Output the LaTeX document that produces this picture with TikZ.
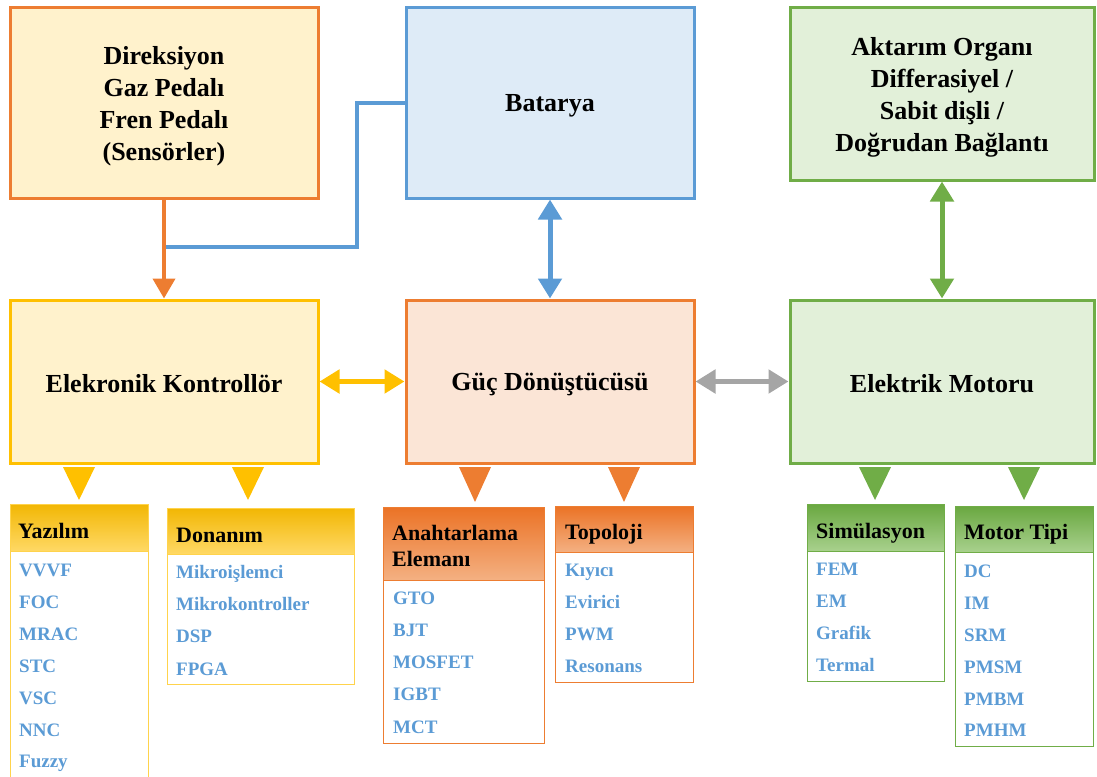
\documentclass[tikz,border=0pt]{standalone}
\usepackage{fontspec}
\setmainfont{Liberation Serif}
\usetikzlibrary{arrows.meta,calc}
\definecolor{cOr}{HTML}{ED7D31}
\definecolor{cBl}{HTML}{5B9BD5}
\definecolor{cGr}{HTML}{70AD47}
\definecolor{cYe}{HTML}{FFC000}
\definecolor{cGy}{HTML}{A5A5A5}
\definecolor{fYe}{HTML}{FFF2CC}
\definecolor{fBl}{HTML}{DEEBF7}
\definecolor{fGr}{HTML}{E2F0D9}
\definecolor{fOr}{HTML}{FBE5D6}
\definecolor{hYeT}{HTML}{F2B705}
\definecolor{hYeB}{HTML}{FFD966}
\definecolor{hOrT}{HTML}{EB7326}
\definecolor{hOrB}{HTML}{F4B183}
\definecolor{hGrT}{HTML}{6AA841}
\definecolor{hGrB}{HTML}{A9D18E}
\begin{document}
\begin{tikzpicture}[x=1pt,y=-1pt,
  mainbox/.style={draw, line width=3pt, inner sep=0pt},
  maintext/.style={inner sep=0pt, align=center, font=\bfseries\fontsize{26}{32}\selectfont},
  listbox/.style={draw, line width=1.2pt, fill=white, inner sep=0pt, anchor=north west},
  hdr/.style={draw, line width=1.2pt, inner sep=0pt, anchor=north west},
  hdrtext/.style={anchor=base west, inner sep=0pt, align=left, font=\bfseries\fontsize{22}{26}\selectfont},
  item/.style={anchor=base west, inner sep=0pt, text=cBl, font=\bfseries\fontsize{19}{23}\selectfont},
  conn/.style={line width=4pt},
  dbl/.style={line width=5pt, {Triangle[length=20pt,width=23pt]}-{Triangle[length=20pt,width=23pt]}},
  sgl/.style={line width=4pt, -{Triangle[length=20pt,width=22pt]}}
]
\useasboundingbox (0,0) rectangle (1097,776);

% main boxes
\node[mainbox, fill=fYe, draw=cOr, minimum width=308pt, minimum height=190pt] (sens) at (164,103) {};
\node[mainbox, fill=fBl, draw=cBl, minimum width=288pt, minimum height=190pt] (bat) at (550,103) {};
\node[mainbox, fill=fGr, draw=cGr, minimum width=304pt, minimum height=172pt] (akt) at (942,94) {};
\node[mainbox, fill=fYe, draw=cYe, minimum width=308pt, minimum height=163pt] (ctrl) at (164,381.5) {};
\node[mainbox, fill=fOr, draw=cOr, minimum width=288pt, minimum height=163pt] (conv) at (550,381.5) {};
\node[mainbox, fill=fGr, draw=cGr, minimum width=304pt, minimum height=163pt] (mot) at (942,381.5) {};

\node[maintext] (sensT) at (164,106) {Direksiyon\\Gaz Pedalı\\Fren Pedalı\\(Sensörler)};
\node[maintext] (batT) at (550,106) {Batarya};
\node[maintext] (aktT) at (942,97) {Aktarım Organı\\Differasiyel /\\Sabit dişli /\\Doğrudan Bağlantı};
\node[maintext] (ctrlT) at (164,384) {Elekronik Kontrollör};
\node[maintext] (convT) at (550,384) {Güç Dönüştücüsü};
\node[maintext] (motT0) at (942,384) {Elektrik Motoru};

% connectors
\coordinate (j) at (164,247);
\draw[conn, cBl] (j) -- (357,247) |- (bat.west);
\draw[sgl, cOr] (sens.south) -- (ctrl.north);
\draw[dbl, cBl] (bat.south) -- (conv.north);
\draw[dbl, cGr] (akt.south) -- (mot.north);
\draw[dbl, cYe] (ctrl.east) -- (conv.west);
\draw[dbl, cGy] (conv.east) -- (mot.west);

% triangles
\fill[cYe] (63,467) -- (95,467) -- (79,500) -- cycle;
\fill[cYe] (232,467) -- (264,467) -- (248,500) -- cycle;
\fill[cOr] (459,467) -- (491,467) -- (475,502) -- cycle;
\fill[cOr] (608,467) -- (640,467) -- (624,502) -- cycle;
\fill[cGr] (859,467) -- (891,467) -- (875,500) -- cycle;
\fill[cGr] (1008,467) -- (1040,467) -- (1024,500) -- cycle;

% Yazilim
\begin{scope}
\clip (0,0) rectangle (1097,776);
\node[listbox, draw=cYe!70, minimum width=138pt, minimum height=300pt] (yazB) at (10,504) {};
\end{scope}
\node[hdr, draw=cYe!70, top color=hYeT, bottom color=hYeB, minimum width=138pt, minimum height=47pt] (yazH) at (10,504) {};
\node[hdrtext] (yazT) at (18,538) {Yazılım};
\node[item] (y1) at (19,576) {VVVF};
\node[item] (y2) at (19,608) {FOC};
\node[item] (y3) at (19,640) {MRAC};
\node[item] (y4) at (19,672) {STC};
\node[item] (y5) at (19,704) {VSC};
\node[item] (y6) at (19,736) {NNC};
\node[item] (y7) at (19,767) {Fuzzy};

% Donanim
\node[listbox, draw=cYe!70, minimum width=187pt, minimum height=176pt] (donB) at (167,508) {};
\node[hdr, draw=cYe!70, top color=hYeT, bottom color=hYeB, minimum width=187pt, minimum height=46pt] (donH) at (167,508) {};
\node[hdrtext] (donT) at (176,542) {Donanım};
\node[item] (d1) at (176,578) {Mikroişlemci};
\node[item] (d2) at (176,610) {Mikrokontroller};
\node[item] (d3) at (176,642) {DSP};
\node[item] (d4) at (176,675) {FPGA};

% Anahtarlama
\node[listbox, draw=cOr, minimum width=161pt, minimum height=236pt] (anaB) at (383,507) {};
\node[hdr, draw=cOr, top color=hOrT, bottom color=hOrB, minimum width=161pt, minimum height=73pt] (anaH) at (383,507) {};
\node[hdrtext] (anaT) at (392,540) {Anahtarlama};
\node[hdrtext] (anaT2) at (392,566) {Elemanı};
\node[item] (a1) at (393,604) {GTO};
\node[item] (a2) at (393,636) {BJT};
\node[item] (a3) at (393,668) {MOSFET};
\node[item] (a4) at (393,700) {IGBT};
\node[item] (a5) at (393,733) {MCT};

% Topoloji
\node[listbox, draw=cOr, minimum width=138pt, minimum height=176pt] (topB) at (555,506) {};
\node[hdr, draw=cOr, top color=hOrT, bottom color=hOrB, minimum width=138pt, minimum height=46pt] (topH) at (555,506) {};
\node[hdrtext] (topT) at (565,539) {Topoloji};
\node[item] (t1) at (565,576) {Kıyıcı};
\node[item] (t2) at (565,608) {Evirici};
\node[item] (t3) at (565,640) {PWM};
\node[item] (t4) at (565,672) {Resonans};

% Simulasyon
\node[listbox, draw=cGr, minimum width=137pt, minimum height=177pt] (simB) at (807,504) {};
\node[hdr, draw=cGr, top color=hGrT, bottom color=hGrB, minimum width=137pt, minimum height=47pt] (simH) at (807,504) {};
\node[hdrtext] (simT) at (816,538) {Simülasyon};
\node[item] (s1) at (816,575) {FEM};
\node[item] (s2) at (816,607) {EM};
\node[item] (s3) at (816,639) {Grafik};
\node[item] (s4) at (816,671) {Termal};

% Motor Tipi
\node[listbox, draw=cGr, minimum width=138pt, minimum height=240pt] (motB) at (955,506) {};
\node[hdr, draw=cGr, top color=hGrT, bottom color=hGrB, minimum width=138pt, minimum height=46pt] (motH) at (955,506) {};
\node[hdrtext] (motT) at (964,539) {Motor Tipi};
\node[item] (m1) at (964,577) {DC};
\node[item] (m2) at (964,609) {IM};
\node[item] (m3) at (964,641) {SRM};
\node[item] (m4) at (964,673) {PMSM};
\node[item] (m5) at (964,705) {PMBM};
\node[item] (m6) at (964,736) {PMHM};
\end{tikzpicture}
\end{document}
